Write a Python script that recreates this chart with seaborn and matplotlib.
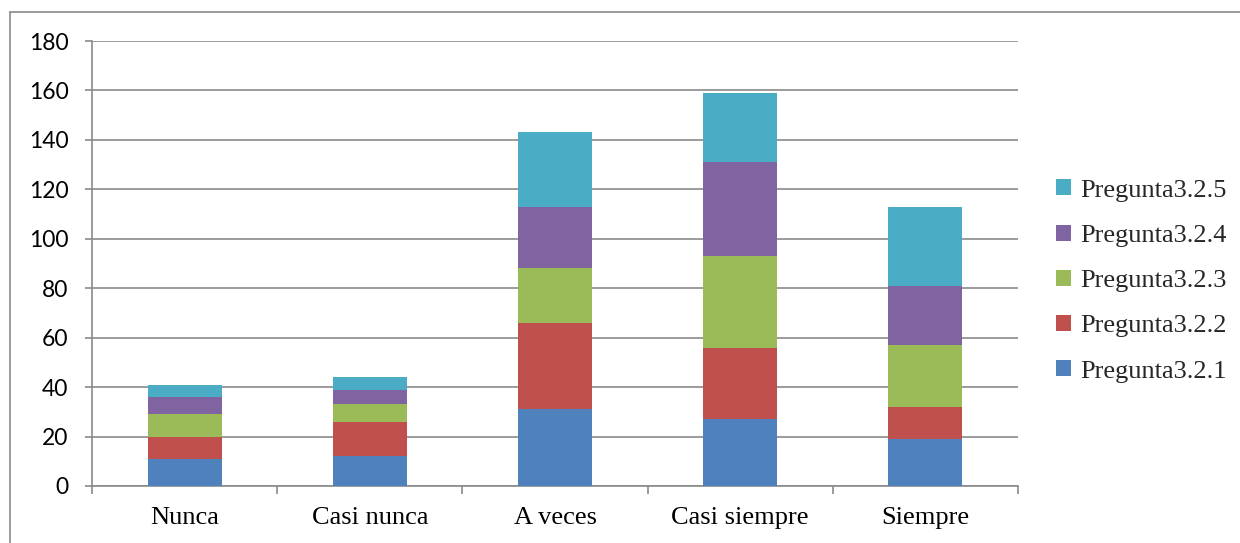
import numpy as np
import pandas as pd
import matplotlib
matplotlib.use("Agg")
import matplotlib.pyplot as plt
from matplotlib.patches import Patch
from matplotlib.lines import Line2D
import seaborn as sns

# Response categories (x axis)
categories = ["Nunca", "Casi nunca", "A veces", "Casi siempre", "Siempre"]

# Counts per question, one list per stacked series
series_names = ["Pregunta3.2.1", "Pregunta3.2.2", "Pregunta3.2.3",
                "Pregunta3.2.4", "Pregunta3.2.5"]
p321 = [11, 12, 31, 27, 19]
p322 = [9, 14, 35, 29, 13]
p323 = [9, 7, 22, 37, 25]
p324 = [7, 6, 25, 38, 24]
p325 = [5, 5, 30, 28, 32]

yticks = [0, 20, 40, 60, 80, 100, 120, 140, 160, 180]

colors = ["#4F81BD", "#C0504D", "#9BBB59", "#8064A2", "#4BACC6"]
grid_gray = "#8A8A8A"

sns.set_theme(style="white")
plt.rcParams["font.family"] = ["Liberation Serif", "DejaVu Serif"]

values = np.array([p321, p322, p323, p324, p325], dtype=float)
cumulative = values.cumsum(axis=0)

df = pd.DataFrame({
    "categoria": np.tile(categories, len(series_names)),
    "serie": np.repeat(series_names, len(categories)),
    "acumulado": cumulative.ravel(),
})

fig = plt.figure(figsize=(12.4, 5.43), dpi=100)
ax = fig.add_axes([92 / 1240, 1 - 486 / 543, (1018 - 92) / 1240, (486 - 41) / 543])

# Stacked bars: draw cumulative totals from the top segment down
for name, color in reversed(list(zip(series_names, colors))):
    sub = df[df["serie"] == name]
    sns.barplot(data=sub, x="categoria", y="acumulado", order=categories,
                color=color, saturation=1, width=0.4, linewidth=0,
                errorbar=None, ax=ax, zorder=3)

ax.set_xlim(-0.5, len(categories) - 0.5)
ax.set_ylim(0, 180)
ax.set_yticks(yticks)
ax.set_xlabel("")
ax.set_ylabel("")

# Horizontal gridlines
ax.yaxis.grid(True, color=grid_gray, linewidth=1.2)
ax.xaxis.grid(False)
ax.set_axisbelow(True)

for side in ["top", "right"]:
    ax.spines[side].set_visible(False)
for side in ["left", "bottom"]:
    ax.spines[side].set_color(grid_gray)
    ax.spines[side].set_linewidth(1.2)

# Y tick labels in a sans face, category labels in serif
ax.tick_params(axis="y", which="major", left=True, length=5, width=1.2,
               color=grid_gray, pad=12, labelsize=16.5, labelcolor="black")
for lbl in ax.get_yticklabels():
    lbl.set_fontfamily(["Lato", "DejaVu Sans"])

ax.set_xticks(range(len(categories)))
ax.set_xticklabels(categories)
ax.tick_params(axis="x", which="major", bottom=False, length=0, pad=15,
               labelsize=19, labelcolor="black")
ax.set_xticks(np.arange(-0.5, len(categories)), minor=True)
ax.tick_params(axis="x", which="minor", bottom=True, length=6, width=1.2,
               color=grid_gray)

# Legend, top entry is the last series
handles = [Patch(facecolor=c, edgecolor="none") for c in colors][::-1]
labels = series_names[::-1]
fig.legend(handles, labels, loc="center left",
           bbox_to_anchor=(1056 / 1240, 1 - 281 / 543),
           frameon=False, fontsize=19, handlelength=0.55, handleheight=0.55,
           handletextpad=0.35, labelspacing=0.87, borderpad=0,
           borderaxespad=0)

# Outer chart frame (left and top edges)
fig.add_artist(Line2D([10 / 1240, 10 / 1240], [0, 1 - 12 / 543],
                      transform=fig.transFigure, color=grid_gray, linewidth=1.2))
fig.add_artist(Line2D([10 / 1240, 1], [1 - 12 / 543, 1 - 12 / 543],
                      transform=fig.transFigure, color=grid_gray, linewidth=1.2))

fig.savefig("out.png", dpi=100, facecolor="white")
